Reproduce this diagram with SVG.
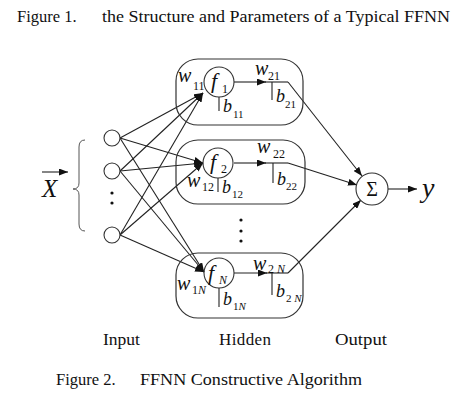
<svg xmlns="http://www.w3.org/2000/svg" width="474" height="400" viewBox="0 0 474 400">
<defs>
<marker id="ah" markerUnits="userSpaceOnUse" markerWidth="9" markerHeight="7" refX="9" refY="3.5" orient="auto"><path d="M0,0 L9,3.5 L0,7 z" fill="#111"/></marker>
<style>
.t{font-family:"Liberation Serif","Times New Roman",serif;fill:#111}
.i{font-style:italic}
.ln{stroke:#222;stroke-width:1.1;fill:none}
.box{stroke:#333;stroke-width:1.2;fill:none}
.nd{stroke:#333;stroke-width:1.1;fill:#fff}
.hn{stroke:#333;stroke-width:1.1;fill:none}
.dot{fill:#111}
</style>
</defs>
<rect width="474" height="400" fill="#fff"/>

<text class="t" x="17" y="22" font-size="16.5">Figure 1.</text>
<text class="t" x="102" y="22" font-size="16.5" textLength="348" lengthAdjust="spacingAndGlyphs">the Structure and Parameters of a Typical FFNN</text>

<!-- input vector -->
<g id="input-vector">
<line class="ln" x1="42" y1="172" x2="68" y2="172" marker-end="url(#ah)"/>
<text class="t i" x="42" y="197" font-size="25">X</text>
<path d="M85,140 Q79,140 79,147 L79,183 Q79,189 73,189 Q79,189 79,195 L79,224 Q79,231 85,231" stroke="#555" stroke-width="1" fill="none"/>
</g>

<!-- connectors -->
<g id="connectors">
<line class="ln" x1="120" y1="138" x2="203" y2="93" marker-end="url(#ah)"/>
<line class="ln" x1="120" y1="171" x2="203" y2="93" marker-end="url(#ah)"/>
<line class="ln" x1="120" y1="235" x2="203" y2="93" marker-end="url(#ah)"/>
<line class="ln" x1="120" y1="138" x2="203" y2="163" marker-end="url(#ah)"/>
<line class="ln" x1="120" y1="171" x2="203" y2="163" marker-end="url(#ah)"/>
<line class="ln" x1="120" y1="235" x2="203" y2="163" marker-end="url(#ah)"/>
<line class="ln" x1="120" y1="138" x2="204" y2="272" marker-end="url(#ah)"/>
<line class="ln" x1="120" y1="171" x2="204" y2="272" marker-end="url(#ah)"/>
<line class="ln" x1="120" y1="235" x2="204" y2="272" marker-end="url(#ah)"/>

<line class="ln" x1="234" y1="82" x2="266" y2="82" marker-end="url(#ah)"/>
<line class="ln" x1="265" y1="82" x2="288" y2="82"/>
<line class="ln" x1="288" y1="82" x2="362" y2="176" marker-end="url(#ah)"/>
<line class="ln" x1="234" y1="163" x2="266" y2="163" marker-end="url(#ah)"/>
<line class="ln" x1="265" y1="163" x2="288" y2="163"/>
<line class="ln" x1="288" y1="163" x2="357" y2="185" marker-end="url(#ah)"/>
<line class="ln" x1="234" y1="273" x2="267" y2="273" marker-end="url(#ah)"/>
<line class="ln" x1="266" y1="273" x2="288" y2="273"/>
<line class="ln" x1="288" y1="273" x2="361" y2="200" marker-end="url(#ah)"/>
<line class="ln" x1="388" y1="189" x2="417" y2="189" marker-end="url(#ah)"/>

<line class="ln" x1="219" y1="97" x2="219" y2="111"/>
<line class="ln" x1="272" y1="82" x2="272" y2="100"/>
<line class="ln" x1="218" y1="178" x2="218" y2="192"/>
<line class="ln" x1="273" y1="163" x2="273" y2="183"/>
<line class="ln" x1="219" y1="288" x2="219" y2="307"/>
<line class="ln" x1="272" y1="273" x2="272" y2="295"/>
</g>

<!-- input nodes -->
<g id="in1"><circle class="nd" cx="112" cy="138" r="8"/></g>
<g id="in2"><circle class="nd" cx="112" cy="171" r="8"/></g>
<g id="in-dots"><circle class="dot" cx="112" cy="193" r="1.6"/><circle class="dot" cx="112" cy="203" r="1.6"/></g>
<g id="in3"><circle class="nd" cx="112" cy="235" r="8"/></g>

<!-- hidden node 1 -->
<g id="hidden1">
<rect class="box" x="176" y="59" width="127" height="66" rx="22"/>
<circle class="hn" cx="219" cy="82" r="15"/>
<text class="t i" x="211" y="88" font-size="22">f</text>
<text class="t" x="222" y="93" font-size="12">1</text>
<text class="t i" x="178" y="82" font-size="20">w</text>
<text class="t" x="193" y="90" font-size="12">11</text>
<text class="t i" x="223" y="112" font-size="18">b</text>
<text class="t" x="233" y="118" font-size="11">11</text>
<text class="t i" x="255" y="75" font-size="20">w</text>
<text class="t" x="268" y="80" font-size="12">21</text>
<text class="t i" x="276" y="102" font-size="18">b</text>
<text class="t" x="285" y="108" font-size="11">21</text>
</g>

<!-- hidden node 2 -->
<g id="hidden2">
<rect class="box" x="176" y="140" width="129" height="64" rx="22"/>
<circle class="hn" cx="218" cy="163" r="15"/>
<text class="t i" x="210" y="169" font-size="22">f</text>
<text class="t" x="221" y="173" font-size="12">2</text>
<text class="t i" x="187" y="187" font-size="20">w</text>
<text class="t" x="202" y="191" font-size="12">12</text>
<text class="t i" x="222" y="193" font-size="18">b</text>
<text class="t" x="232" y="198" font-size="11">12</text>
<text class="t i" x="257" y="153" font-size="20">w</text>
<text class="t" x="273" y="158" font-size="12">22</text>
<text class="t i" x="277" y="185" font-size="18">b</text>
<text class="t" x="286" y="190" font-size="11">22</text>
</g>

<g id="hidden-dots"><circle class="dot" cx="241" cy="220" r="1.6"/><circle class="dot" cx="241" cy="231" r="1.6"/><circle class="dot" cx="241" cy="241" r="1.6"/></g>

<!-- hidden node N -->
<g id="hiddenN">
<rect class="box" x="176" y="253" width="127" height="65" rx="22"/>
<circle class="hn" cx="219" cy="273" r="15"/>
<text class="t i" x="208" y="280" font-size="22">f</text>
<text class="t i" x="219" y="284" font-size="12">N</text>
<text class="t i" x="177" y="290" font-size="20">w</text>
<text class="t" x="192" y="294" font-size="12">1<tspan font-style="italic">N</tspan></text>
<text class="t i" x="223" y="305" font-size="18">b</text>
<text class="t" x="233" y="310" font-size="11">1<tspan font-style="italic">N</tspan></text>
<text class="t i" x="253" y="270" font-size="20">w</text>
<text class="t" x="268" y="273" font-size="12">2<tspan font-style="italic"> N</tspan></text>
<text class="t i" x="276" y="297" font-size="18">b</text>
<text class="t" x="286" y="302" font-size="11">2<tspan font-style="italic"> N</tspan></text>
</g>

<!-- output node -->
<g id="output">
<circle class="nd" cx="372" cy="189" r="16"/>
<text class="t" x="372" y="196" font-size="20" text-anchor="middle">Σ</text>
<text class="t i" x="422" y="197" font-size="28">y</text>
</g>

<g id="labels">
<text class="t" x="103" y="345" font-size="17" textLength="37" lengthAdjust="spacingAndGlyphs">Input</text>
<text class="t" x="219" y="345" font-size="17" textLength="52" lengthAdjust="spacing">Hidden</text>
<text class="t" x="335" y="345" font-size="17" textLength="52" lengthAdjust="spacingAndGlyphs">Output</text>
<text class="t" x="56" y="385" font-size="16.5">Figure 2.</text>
<text class="t" x="140" y="385" font-size="16.5" textLength="222" lengthAdjust="spacingAndGlyphs">FFNN Constructive Algorithm</text>
</g>
</svg>
